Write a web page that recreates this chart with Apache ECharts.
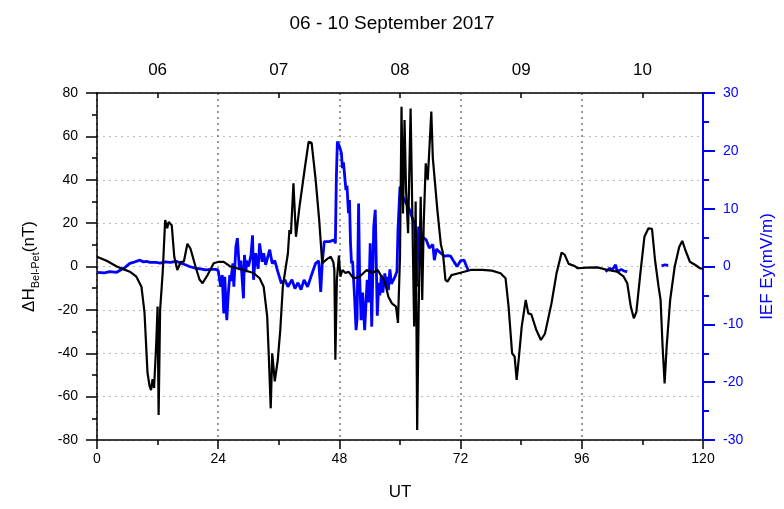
<!DOCTYPE html>
<html>
<head>
<meta charset="utf-8">
<script src="https://cdn.jsdelivr.net/npm/echarts@6/dist/echarts.min.js"></script>
<style>
html,body{margin:0;padding:0;background:#fff;}
#c{width:784px;height:509px;}
</style>
</head>
<body>
<div id="c"></div>
<script>
// ---- data (hours UT from 06 Sep 2017 00:00) ----
const chartTitle = '06 - 10 September 2017';
const bottomTicks = [0, 24, 48, 72, 96, 120];
const dayLabelPos = [12, 36, 60, 84, 108];
const dayLabels = ['06', '07', '08', '09', '10'];

// ΔH Bel-Pet (nT)
const dhTime = [0,2,3.9,5.2,6.5,7.8,8.8,9.4,10.0,10.4,10.7,11.0,11.3,11.7,12.0,12.2,12.5,13.0,13.5,13.9,14.2,14.8,15.3,15.9,16.6,17.2,17.9,18.5,19.5,20.3,20.9,21.9,23.1,24.1,25.1,26.4,29,31,32.2,33.0,33.7,34.0,34.4,34.7,35.2,35.8,36.3,36.8,37.4,37.8,38.1,38.4,38.9,39.4,40.1,41.1,41.9,42.5,43.3,44.0,44.6,45.6,46.3,46.8,47.0,47.2,47.5,47.9,48.2,48.6,49.2,49.8,50.8,52,53.4,54.5,55.6,56.3,56.9,57.7,58.4,59.2,59.6,60.0,60.3,60.6,60.9,61.2,61.6,62.1,62.4,62.8,63.1,63.4,63.7,64.1,64.4,64.7,65.1,65.5,66.2,66.5,67.4,68.1,68.5,69.0,69.4,70.2,71.6,74,76.3,78.2,79.9,80.9,81.5,82.2,82.7,83.1,83.5,84.1,84.9,85.4,86,87.0,87.9,88.7,90.0,91.0,92.0,92.6,93.4,94.6,95.2,97,99.1,101.1,103.0,104.3,105.0,105.7,106.3,106.8,107.6,108.4,109.2,109.9,110.5,111.2,111.6,112.0,112.4,112.8,113.5,114.4,115.3,115.9,116.5,117.4,118.4,119.4,120];
const dhValue = [4.5,2.5,0,-1.2,-2.4,-4.7,-9.3,-21,-49,-55,-57,-52,-56,-37,-18.5,-68.5,-20,-3,21.4,17.7,20.5,19,4.5,-1.6,2.2,2.2,10.5,8.3,0,-6,-7.7,-3.9,1.5,2.2,2.1,0,-1.6,-3,-5.4,-9.3,-23,-40,-65.4,-40,-53,-43,-29,-9.3,0,6,16.8,15,38.4,13.7,27.6,44.5,57.5,57,39.9,21.4,1.5,3.5,4.5,2,-1.6,-43,-6,5,-4.7,-1.6,-3,-2.4,-5.5,-4.7,-1.6,-3,-1.6,-4.5,-6.2,-13.9,-17,-18.5,-26,4.6,73.7,24.5,67.5,35,15.3,72.9,30,-27.7,30,-75.4,-20,32.2,-15.4,20,47.6,40,71.4,50,26,10,6.2,-6.2,-7,-4,-3.1,-1.6,-1.6,-1.9,-3.1,-5.4,-18.5,-40,-41.6,-52.3,-43,-27.7,-15.4,-21.6,-22,-29.3,-33.9,-31,-17,-3.1,6.4,5.5,1.2,0.2,-0.8,-0.5,-0.4,-1.6,-2.4,-4.7,-7.7,-18.5,-23.9,-21,-3.1,13.7,17.6,17.4,3,-9.3,-15.4,-37,-53.9,-37,-15.4,0,9.1,11.8,7.6,2.2,0.8,-0.8,-1.0];

// IEF Ey (mV/m); null = data gap
const eyTime = [0,1.5,2.5,3.9,4.5,5.5,6.5,7.2,7.8,8.5,9.2,9.8,10.5,11.7,12.5,13.5,14.5,15.7,16.5,17.5,18.3,19.5,20.5,21.5,22.5,23.5,24.0,24.5,24.8,25.1,25.3,25.7,26.0,26.3,26.5,26.9,27.1,27.5,27.8,28.2,28.5,29.0,29.2,29.5,29.6,30.0,30.5,30.8,31.0,31.4,31.9,32.2,32.7,33.0,33.4,34.2,34.7,35.2,35.8,36.5,37.2,37.8,38.6,39.2,39.8,40.4,41.0,41.7,42.7,43.3,43.9,44.3,44.6,45.0,46.0,47.0,47.2,47.4,47.6,48.0,48.4,48.6,48.8,49.3,49.5,49.8,50.0,50.2,50.4,50.6,51.0,51.3,51.5,51.8,52.0,52.3,52.6,53.0,53.5,53.8,54.1,54.4,54.8,55.1,55.5,55.8,56.0,56.3,56.6,57.0,57.3,57.5,57.7,58.0,58.3,59.0,59.4,59.6,60.0,60.6,61.9,62.6,62.9,63.2,63.3,63.6,63.7,64.3,65.2,65.8,66.5,66.8,67.2,68.1,68.8,69.5,70.0,70.7,71.3,72.0,72.7,73.0,73.5,80,100.7,101.5,102.0,102.7,103.0,103.8,104.4,105.0,108,111.8,112.5,113.1];
const eyValue = [-1.0,-1.1,-0.9,-1.0,-0.7,-0.2,0.55,0.7,0.9,1.1,0.8,0.9,0.7,0.7,0.6,0.8,0.7,0.9,0.6,0.3,0.0,-0.3,-0.4,-0.6,-0.5,-0.5,-0.7,-3.5,-1.5,-8.1,-1.8,-9.3,-4.7,-1.5,-2.5,0.55,-3.5,3.4,4.9,-0.6,1.0,-5.5,2.0,-1.0,1.0,0.0,2.0,5.4,-2.3,2.3,-0.4,4.0,0.8,2.3,0.3,2.9,0.5,1.0,-0.9,-2.9,-2.3,-3.5,-2.3,-3.8,-2.8,-4.0,-2.3,-3.5,-0.9,0.55,1.0,-4.4,0.5,4.3,4.3,4.6,4.0,15.5,21.6,20.8,19.6,17,18,13.2,14,9.2,11.5,4.0,0.55,1.0,-5.2,-11,-9,10.9,-1.5,-9.3,-4.5,-11,-2.3,-6.2,4.0,-10.4,6.9,9.8,-8.5,-2.8,-5,-1.5,-4.5,-1.2,-3.5,-1.8,-4.1,-0.5,-3.0,-1.8,-0.8,6.3,13.8,12,9.8,8.0,7.5,-0.6,-3.5,5.2,6.9,5.2,4.6,3.2,3.8,1.1,3.0,2.3,1.8,1.9,1.8,0.8,0.0,1.0,1.1,0.4,-0.6,null,-0.9,-0.3,-0.6,0.3,-0.9,-0.5,-0.8,-0.9,null,0.1,0.3,0.2];

const FONT = '"Liberation Sans", Arial, sans-serif';
const dhData = dhTime.map((t, i) => [t, dhValue[i]]);
const eyData = eyTime.map((t, i) => [t, eyValue[i] === null ? '-' : eyValue[i]]);

const chart = echarts.init(document.getElementById('c'), null, {renderer: 'canvas'});
chart.setOption({
  animation: false,
  backgroundColor: '#fff',
  title: {
    text: chartTitle, left: 'center', top: 9,
    textStyle: {fontFamily: FONT, fontSize: 19, fontWeight: 'normal', color: '#000'}
  },
  grid: {left: 97, right: 74, top: 93, bottom: 69, containLabel: false},
  xAxis: [
    {
      type: 'value', position: 'bottom', min: 0, max: 120, interval: 24,
      name: 'UT', nameLocation: 'middle', nameGap: 44,
      nameTextStyle: {fontFamily: FONT, fontSize: 17, color: '#000'},
      axisLine: {show: true, onZero: false, lineStyle: {color: '#000', width: 1.5}},
      axisTick: {show: true, inside: false, length: 9, lineStyle: {color: '#000', width: 1.5}},
      minorTick: {show: true, splitNumber: 2, length: 5, lineStyle: {color: '#000', width: 1.5}},
      axisLabel: {fontFamily: FONT, fontSize: 14, color: '#000', margin: 12},
      splitLine: {show: true, lineStyle: {color: '#777', type: [2, 4], width: 1.5}}
    },
    {
      type: 'value', position: 'top', min: 0, max: 120,
      axisLine: {show: true, onZero: false, lineStyle: {color: '#000', width: 1.5}},
      axisTick: {show: true, inside: true, length: 5, customValues: dayLabelPos, lineStyle: {color: '#000', width: 1.5}},
      axisLabel: {
        show: true, fontFamily: FONT, fontSize: 17, color: '#000', margin: 14,
        customValues: dayLabelPos,
        formatter: v => { const k = dayLabelPos.indexOf(v); return k >= 0 ? dayLabels[k] : ''; }
      },
      splitLine: {show: false}
    }
  ],
  yAxis: [
    {
      type: 'value', position: 'left', min: -80, max: 80, interval: 20,
      name: '{a|ΔH}{b|Bel-Pet}{a|(nT)}', nameLocation: 'middle', nameGap: 56, nameRotate: 90,
      nameTextStyle: {
        fontFamily: FONT, color: '#000',
        rich: {
          a: {fontFamily: FONT, fontSize: 17, color: '#000', lineHeight: 24, verticalAlign: 'middle'},
          b: {fontFamily: FONT, fontSize: 11, color: '#000', lineHeight: 24, verticalAlign: 'bottom', padding: [10, 0, 0, 0]}
        }
      },
      axisLine: {show: true, onZero: false, lineStyle: {color: '#000', width: 1.5}},
      axisTick: {show: true, inside: false, length: 11, lineStyle: {color: '#000', width: 1.5}},
      minorTick: {show: true, splitNumber: 2, length: 5, lineStyle: {color: '#000', width: 1.5}},
      axisLabel: {fontFamily: FONT, fontSize: 14, color: '#000', margin: 19},
      splitLine: {show: true, lineStyle: {color: '#bbb', type: [2, 4], width: 1}}
    },
    {
      type: 'value', position: 'right', min: -30, max: 30, interval: 10,
      name: 'IEF Ey(mV/m)', nameLocation: 'middle', nameGap: 56, nameRotate: 90,
      nameTextStyle: {fontFamily: FONT, fontSize: 17, color: '#0000ff'},
      axisLine: {show: true, onZero: false, lineStyle: {color: '#0000ff', width: 2}},
      axisTick: {show: true, inside: false, length: 12, lineStyle: {color: '#0000ff', width: 2}},
      minorTick: {show: true, splitNumber: 2, length: 6, lineStyle: {color: '#0000ff', width: 2}},
      axisLabel: {fontFamily: FONT, fontSize: 14, color: '#0000ff', margin: 20},
      splitLine: {show: false}
    }
  ],
  series: [
    {
      name: 'IEF Ey', type: 'line', xAxisIndex: 0, yAxisIndex: 1, data: eyData,
      showSymbol: false, connectNulls: false, z: 2,
      lineStyle: {color: '#0000ff', width: 2.8}
    },
    {
      name: 'dH', type: 'line', xAxisIndex: 0, yAxisIndex: 0, data: dhData,
      showSymbol: false, z: 3,
      lineStyle: {color: '#000', width: 2.2}
    }
  ]
});
</script>
</body>
</html>
